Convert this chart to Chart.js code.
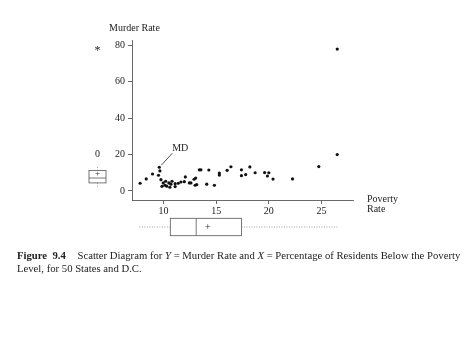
<!DOCTYPE html>
<html>
<head>
<meta charset="utf-8">
<script src="https://cdn.jsdelivr.net/npm/chart.js@4/dist/chart.umd.min.js"></script>
<style>
  html, body { margin: 0; padding: 0; background: #fff; }
  #wrap { position: relative; width: 474px; height: 355px; overflow: hidden; }
  #c { position: absolute; left: 0; top: 0; }
  #cap { position: absolute; left: 17px; top: 249px; width: 450px;
         font-family: "Liberation Serif", "DejaVu Serif", serif; font-size: 10.7px;
         line-height: 12.6px; color: #222; white-space: nowrap; }
  #cap b { font-weight: bold; margin-right: 9px; }
</style>
</head>
<body>
<div id="wrap">
  <canvas id="c" width="474" height="355"></canvas>
  <div id="cap"><b>Figure&nbsp; 9.4</b> Scatter Diagram for <i>Y</i> = Murder Rate and <i>X</i> = Percentage of Residents Below the Poverty<br>Level, for 50 States and D.C.</div>
</div>
<script>
// ---- data ----
const povertyRate = [7.77, 8.35, 8.95, 9.52, 9.59, 9.65, 9.75, 9.85, 9.97, 10.13, 10.2, 10.3, 10.5, 10.6, 10.7, 10.8, 11.1, 11.1, 11.4, 11.65, 11.97, 12.07, 12.45, 12.6, 12.9, 13.05, 13.0, 13.15, 13.4, 13.55, 14.1, 14.3, 14.83, 15.3, 15.3, 16.04, 16.4, 17.4, 17.4, 17.8, 18.2, 18.7, 19.6, 19.87, 20.0, 20.4, 22.25, 24.75, 26.5, 26.5];
const murderRate  = [4.2, 6.6, 9.3, 8.6, 13.0, 11.0, 6.2, 2.5, 4.4, 3.1, 5.3, 2.6, 4.4, 2.0, 3.7, 5.3, 2.4, 4.0, 4.2, 4.9, 5.1, 7.7, 4.4, 4.4, 6.4, 7.1, 3.1, 3.5, 11.6, 11.6, 3.7, 11.5, 3.1, 9.8, 8.7, 11.3, 13.3, 11.6, 8.4, 9.0, 13.2, 10.0, 10.1, 8.2, 10.0, 6.5, 6.6, 13.4, 20.0, 78.0];
const xTicks = [10, 15, 20, 25];
const yTicks = [0, 20, 40, 60, 80];
// box plots: [whisker low, Q1, median, Q3, whisker high]
const murderBox = [1.6, 4.4, 7.1, 11.2, 13.9];
const murderMean = 9.7;
const murderOutliers = [20.0, 78.0];
const murderOutlierMarks = ['0', '*'];
const povertyBox = [7.7, 10.64, 13.1, 17.4, 26.6];
const povertyMean = 14.2;
const labelMD = 'MD';
const mdIndex = 4;
const yTitle = 'Murder Rate';
const xTitle = ['Poverty', 'Rate'];

const serif = '"Liberation Serif", "DejaVu Serif", serif';
const ink = '#222';

const points = povertyRate.map((x, i) => ({ x: x, y: murderRate[i] }));

const extras = {
  id: 'extras',
  afterDraw(chart) {
    const ctx = chart.ctx, xs = chart.scales.x, ys = chart.scales.y;
    ctx.save();
    ctx.fillStyle = ink; ctx.strokeStyle = ink;
    ctx.font = '10px ' + serif;
    // axis titles
    ctx.textAlign = 'left'; ctx.textBaseline = 'middle';
    ctx.fillText(yTitle, 109, 28);
    ctx.fillText(xTitle[0], 367, 199);
    ctx.fillText(xTitle[1], 367, 209.5);

    // MD annotation
    const px = xs.getPixelForValue(povertyRate[mdIndex]);
    const py = ys.getPixelForValue(murderRate[mdIndex]);
    ctx.lineWidth = 0.8;
    ctx.beginPath(); ctx.moveTo(px + 2, py - 2); ctx.lineTo(px + 13, py - 14); ctx.stroke();
    ctx.textAlign = 'center';
    ctx.fillText(labelMD, px + 21, py - 19);

    // vertical box plot (murder rate) on the y scale
    const cx = 97.5, hw = 8.5;
    const yb = murderBox.map(v => ys.getPixelForValue(v));
    ctx.lineWidth = 0.8; ctx.strokeStyle = '#555';
    ctx.strokeRect(cx - hw, yb[3], hw * 2, yb[1] - yb[3]);
    ctx.beginPath(); ctx.moveTo(cx - hw, yb[2]); ctx.lineTo(cx + hw, yb[2]); ctx.stroke();
    ctx.setLineDash([1, 1.5]); ctx.strokeStyle = '#888';
    ctx.beginPath();
    ctx.moveTo(cx, yb[3]); ctx.lineTo(cx, yb[4]);
    ctx.moveTo(cx, yb[1]); ctx.lineTo(cx, yb[0]);
    ctx.stroke();
    ctx.setLineDash([]);
    ctx.fillStyle = ink;
    ctx.font = '9px ' + serif;
    ctx.textBaseline = 'middle';
    ctx.fillText('+', cx, ys.getPixelForValue(murderMean));
    murderOutliers.forEach((v, i) => {
      const yy = ys.getPixelForValue(v);
      if (murderOutlierMarks[i] === '*') {
        ctx.font = '12px ' + serif;
        ctx.fillText('*', cx, yy + 2);
      } else {
        ctx.font = '10px ' + serif;
        ctx.fillText(murderOutlierMarks[i], cx, yy);
      }
    });

    // horizontal box plot (poverty rate) on the x scale
    const cy = 227, hh = 8.7;
    const xb = povertyBox.map(v => xs.getPixelForValue(v));
    ctx.strokeStyle = '#555'; ctx.lineWidth = 0.8;
    ctx.strokeRect(xb[1], cy - hh, xb[3] - xb[1], hh * 2);
    ctx.beginPath(); ctx.moveTo(xb[2], cy - hh); ctx.lineTo(xb[2], cy + hh); ctx.stroke();
    ctx.setLineDash([1, 1.5]); ctx.strokeStyle = '#888';
    ctx.beginPath();
    ctx.moveTo(xb[0], cy); ctx.lineTo(xb[1], cy);
    ctx.moveTo(xb[3], cy); ctx.lineTo(xb[4], cy);
    ctx.stroke();
    ctx.setLineDash([]);
    ctx.font = '10px ' + serif;
    ctx.fillText('+', xs.getPixelForValue(povertyMean), cy);
    ctx.restore();
  }
};

new Chart(document.getElementById('c'), {
  type: 'scatter',
  data: { datasets: [{ data: points, backgroundColor: '#111', borderColor: '#111',
                       pointRadius: 1.6, pointBorderWidth: 0, pointHoverRadius: 1.6 }] },
  options: {
    responsive: false, animation: false, devicePixelRatio: 1,
    layout: { padding: { top: 40, right: 121, bottom: 0, left: 0 } },
    plugins: { legend: { display: false }, tooltip: { enabled: false } },
    scales: {
      x: {
        type: 'linear', min: 7, max: 28,
        afterBuildTicks: s => { s.ticks = xTicks.map(v => ({ value: v })); },
        afterFit: s => { s.height = 155; },
        grid: { drawOnChartArea: false, drawTicks: true, tickLength: 4, color: '#444', lineWidth: 0.8 },
        border: { display: true, color: '#444', width: 0.8 },
        ticks: { color: ink, font: { family: serif, size: 10 }, padding: 1, maxRotation: 0 }
      },
      y: {
        type: 'linear', min: -5, max: 83,
        afterBuildTicks: s => { s.ticks = yTicks.map(v => ({ value: v })); },
        afterFit: s => { s.width = 132; },
        grid: { drawOnChartArea: false, drawTicks: true, tickLength: 4, color: '#444', lineWidth: 0.8 },
        border: { display: true, color: '#444', width: 0.8 },
        ticks: { color: ink, font: { family: serif, size: 10 }, padding: 3 }
      }
    }
  },
  plugins: [extras]
});
</script>
</body>
</html>
